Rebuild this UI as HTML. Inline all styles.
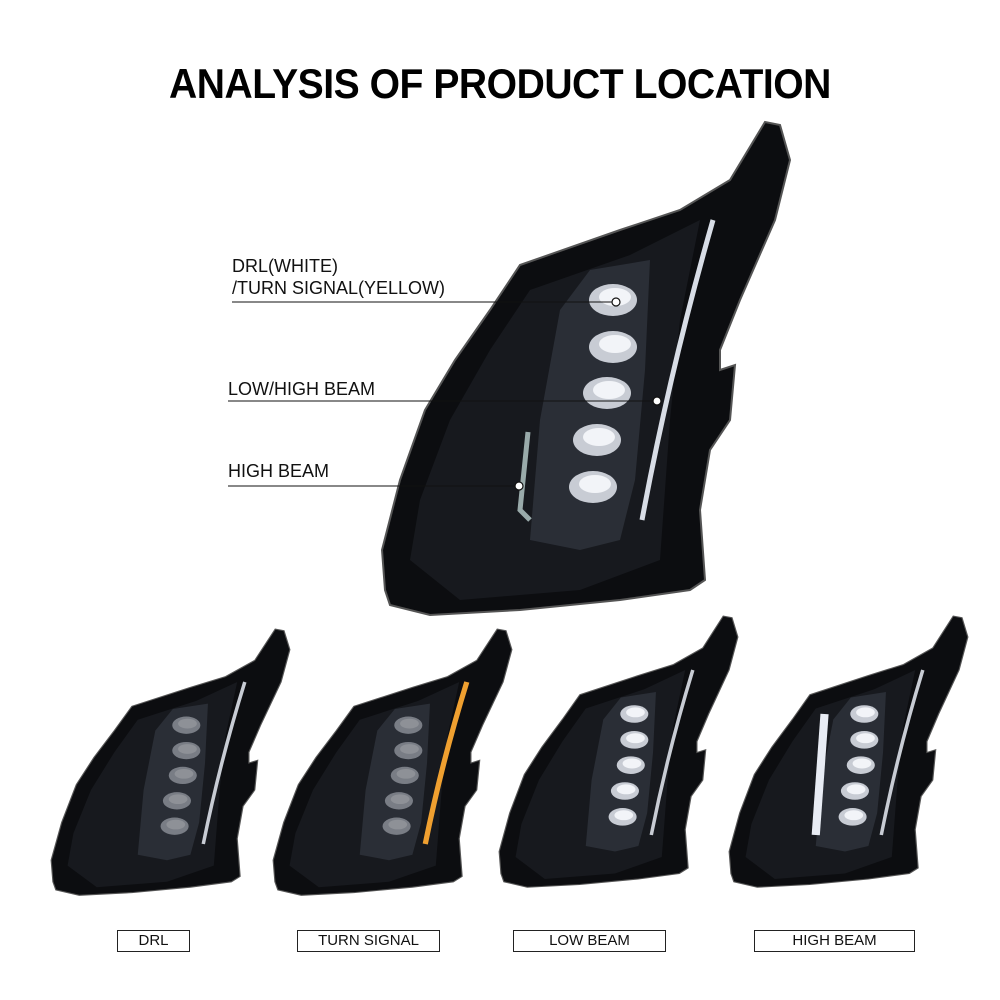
<!DOCTYPE html>
<html><head><meta charset="utf-8"><style>
body{margin:0;width:1000px;height:1000px;background:#fff;overflow:hidden;position:relative;font-family:"Liberation Sans",sans-serif}
.t{position:absolute;left:0;width:1000px;top:60px;text-align:center;font-weight:bold;font-size:42px;letter-spacing:-0.5px;color:#000;transform:scaleX(0.93)}
.l{position:absolute;font-size:18px;color:#111;line-height:22px}
.b{position:absolute;border:1px solid #222;font-size:15px;text-align:center;line-height:20px;color:#111;height:20px;top:930px}
</style></head><body>
<div class="t">ANALYSIS OF PRODUCT LOCATION</div>
<svg width="1000" height="1000" style="position:absolute;left:0;top:0">
<defs>
<g id="hl">
<polygon points="5,470 2,430 20,360 45,290 75,240 110,190 140,145 240,110 300,90 350,60 385,2 400,5 410,40 395,100 360,180 340,230 340,250 355,245 350,300 330,330 320,390 325,460 310,470 240,480 140,490 50,495 10,485" fill="#0c0d10" stroke="#555" stroke-width="2"/>
<polygon points="30,440 40,380 70,300 110,230 150,170 250,135 320,100 300,200 290,300 280,440 200,470 80,480" fill="#17191e"/>
<polygon points="150,420 160,300 180,190 210,150 270,140 265,250 255,360 240,420 200,430" fill="#2a2e36"/>
</g>
<g id="lens">
<ellipse cx="0" cy="0" rx="24" ry="16" fill="#c8ccd4"/>
<ellipse cx="2" cy="-3" rx="16" ry="9" fill="#f2f4f8"/>
</g>
</defs>
<g transform="translate(380,120)">
<use href="#hl"/>
<use href="#lens" x="233" y="180"/><use href="#lens" x="233" y="227"/><use href="#lens" x="227" y="273"/><use href="#lens" x="217" y="320"/><use href="#lens" x="213" y="367"/>
<path d="M333,100 Q290,250 262,400" stroke="#d8dde6" stroke-width="5" fill="none"/>
<path d="M148,312 L140,390 L150,400" stroke="#9aa" stroke-width="5" fill="none"/>
</g>
<g transform="translate(50,628) scale(0.585,0.54)">
<use href="#hl"/><path d="M333,100 Q290,250 262,400" stroke="#c8ccd4" stroke-width="6" fill="none"/>
<g opacity="0.5"><use href="#lens" x="233" y="180"/><use href="#lens" x="233" y="227"/><use href="#lens" x="227" y="273"/><use href="#lens" x="217" y="320"/><use href="#lens" x="213" y="367"/></g></g>
<g transform="translate(272,628) scale(0.585,0.54)">
<use href="#hl"/><path d="M333,100 Q290,250 262,400" stroke="#f0a030" stroke-width="9" fill="none"/>
<g opacity="0.5"><use href="#lens" x="233" y="180"/><use href="#lens" x="233" y="227"/><use href="#lens" x="227" y="273"/><use href="#lens" x="217" y="320"/><use href="#lens" x="213" y="367"/></g></g>
<g transform="translate(498,615) scale(0.585,0.55)">
<use href="#hl"/><path d="M333,100 Q290,250 262,400" stroke="#c8ccd4" stroke-width="6" fill="none"/>
<use href="#lens" x="233" y="180"/><use href="#lens" x="233" y="227"/><use href="#lens" x="227" y="273"/><use href="#lens" x="217" y="320"/><use href="#lens" x="213" y="367"/></g>
<g transform="translate(728,615) scale(0.585,0.55)">
<use href="#hl"/><path d="M333,100 Q290,250 262,400" stroke="#c8ccd4" stroke-width="6" fill="none"/>
<path d="M165,180 L150,400" stroke="#e8ecf4" stroke-width="14" fill="none"/>
<use href="#lens" x="233" y="180"/><use href="#lens" x="233" y="227"/><use href="#lens" x="227" y="273"/><use href="#lens" x="217" y="320"/><use href="#lens" x="213" y="367"/></g>
<g stroke="#111" stroke-width="1">
<line x1="232" y1="302" x2="612" y2="302"/><line x1="228" y1="401" x2="655" y2="401"/><line x1="228" y1="486" x2="516" y2="486"/>
</g>
<g fill="#fff" stroke="#111" stroke-width="1.2">
<circle cx="616" cy="302" r="4"/><circle cx="657" cy="401" r="4"/><circle cx="519" cy="486" r="4"/>
</g>
</svg>
<div class="l" style="left:232px;top:255px">DRL(WHITE)<br>/TURN SIGNAL(YELLOW)</div>
<div class="l" style="left:228px;top:378px">LOW/HIGH BEAM</div>
<div class="l" style="left:228px;top:460px">HIGH BEAM</div>
<div class="b" style="left:117px;width:71px">DRL</div>
<div class="b" style="left:297px;width:141px">TURN SIGNAL</div>
<div class="b" style="left:513px;width:151px">LOW BEAM</div>
<div class="b" style="left:754px;width:159px">HIGH BEAM</div>
</body></html>
